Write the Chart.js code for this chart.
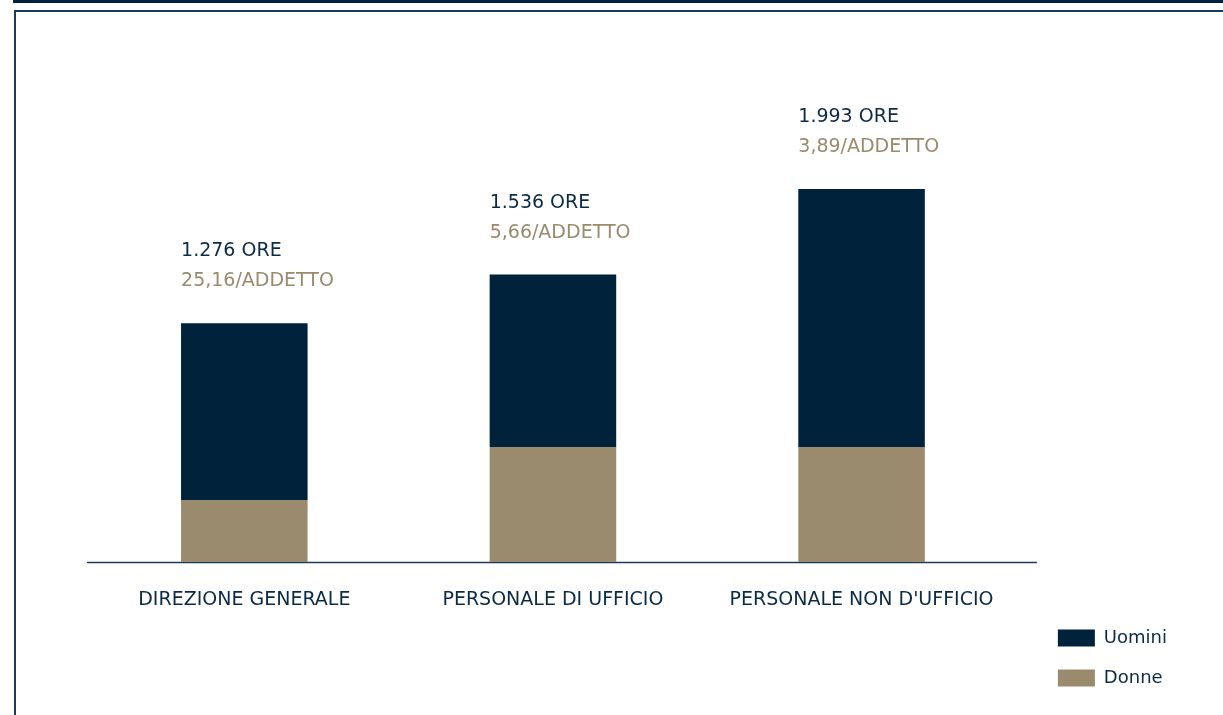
<!DOCTYPE html>
<html>
<head>
<meta charset="utf-8">
<script src="https://cdn.jsdelivr.net/npm/chart.js@4/dist/chart.umd.min.js"></script>
<style>
  html, body { margin: 0; padding: 0; background: #fff; overflow: hidden; }
  #wrap { position: relative; width: 1223px; height: 715px; }
  #topbar { position: absolute; left: 13px; top: 0; right: 0; height: 3px; background: #00223a; }
  #frame { position: absolute; left: 14px; top: 10px; right: 0; bottom: 0;
           border-left: 2px solid #1d3a56; border-top: 2px solid #1d3a56; }
  canvas { position: absolute; left: 0; top: 0; }
</style>
</head>
<body>
<div id="wrap">
  <div id="topbar"></div>
  <div id="frame"></div>
  <canvas id="myChart" width="1223" height="715"></canvas>
</div>
<script>
const categorie = ["DIREZIONE GENERALE", "PERSONALE DI UFFICIO", "PERSONALE NON D'UFFICIO"];
const oreTotali = [1276, 1536, 1993];
const oreDonne = [332, 615, 615];
const oreUomini = [944, 921, 1378];
const orePerAddetto = ["25,16", "5,66", "3,89"];

const NAVY = "#00223a";
const TEXT = "#0b2a45";
const TAN = "#9a8a6e";
const FONT = "DejaVu Sans";

function formatOre(n) {
  return String(n).replace(/\B(?=(\d{3})+(?!\d))/g, ".");
}

// linea di base che sporge oltre l'area del grafico
const baseLine = {
  id: "baseLine",
  beforeDatasetsDraw(chart) {
    const { ctx, chartArea } = chart;
    ctx.save();
    ctx.strokeStyle = "#1d3a56";
    ctx.lineWidth = 1.5;
    ctx.beginPath();
    ctx.moveTo(chartArea.left - 3, chartArea.bottom + 0.5);
    ctx.lineTo(chartArea.right + 21, chartArea.bottom + 0.5);
    ctx.stroke();
    ctx.restore();
  },
};

// etichette sopra le colonne
const valueLabels = {
  id: "valueLabels",
  afterDatasetsDraw(chart) {
    const { ctx } = chart;
    const meta = chart.getDatasetMeta(1);
    ctx.save();
    ctx.font = "19px " + FONT;
    ctx.textAlign = "left";
    ctx.textBaseline = "middle";
    meta.data.forEach((bar, i) => {
      const x = bar.x - bar.width / 2;
      ctx.fillStyle = TEXT;
      ctx.fillText(formatOre(oreTotali[i]) + " ORE", x, bar.y - 72);
      ctx.fillStyle = TAN;
      ctx.fillText(orePerAddetto[i] + "/ADDETTO", x, bar.y - 42);
    });
    ctx.restore();
  },
};

const ctx = document.getElementById("myChart").getContext("2d");
const myChart = new Chart(ctx, {
  type: "bar",
  data: {
    labels: categorie,
    datasets: [
      {
        label: "Donne",
        data: oreDonne,
        backgroundColor: TAN,
        categoryPercentage: 0.82,
        barPercentage: 0.5,
      },
      {
        label: "Uomini",
        data: oreUomini,
        backgroundColor: NAVY,
        categoryPercentage: 0.82,
        barPercentage: 0.5,
      },
    ],
  },
  options: {
    responsive: false,
    animation: false,
    layout: {
      padding: { left: 90, right: 46, top: 40, bottom: 6 },
    },
    scales: {
      x: {
        stacked: true,
        grid: { display: false, drawTicks: false },
        border: { display: false },
        ticks: {
          color: TEXT,
          padding: 27,
          maxRotation: 0,
          font: { family: FONT, size: 19 },
        },
        afterFit: (scale) => {
          scale.height = 147;
        },
      },
      y: {
        stacked: true,
        position: "right",
        min: 0,
        max: 2790,
        grid: { display: false, drawTicks: false },
        border: { display: false },
        ticks: { display: false },
        afterFit: (scale) => {
          scale.width = 20;
        },
      },
    },
    plugins: {
      legend: {
        position: "right",
        align: "end",
        reverse: true,
        labels: {
          boxWidth: 37,
          boxHeight: 17,
          padding: 22,
          color: TEXT,
          font: { family: FONT, size: 18 },
        },
      },
      tooltip: { enabled: false },
    },
  },
  plugins: [baseLine, valueLabels],
});
</script>
</body>
</html>
